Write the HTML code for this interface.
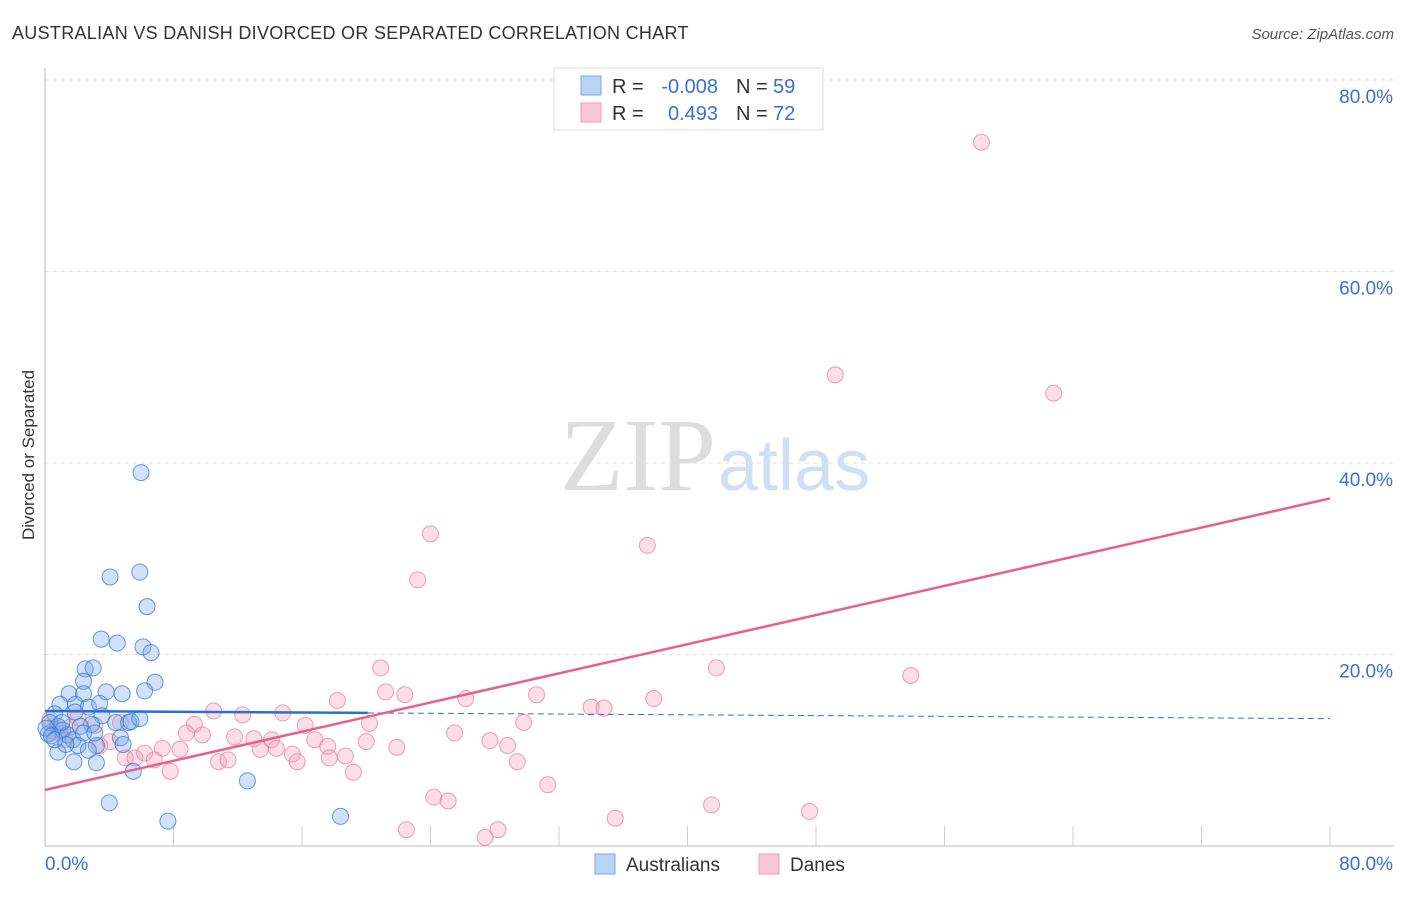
<!DOCTYPE html>
<html><head><meta charset="utf-8"><style>
body{margin:0;background:#fff;font-family:"Liberation Sans",sans-serif}
</style></head><body>
<svg id="c" width="1406" height="892" xmlns="http://www.w3.org/2000/svg">
<text x="12" y="39" font-size="18" fill="#333" letter-spacing="0.3">AUSTRALIAN VS DANISH DIVORCED OR SEPARATED CORRELATION CHART</text>
<text x="1394" y="39" font-size="15" fill="#555" font-style="italic" text-anchor="end">Source: ZipAtlas.com</text>
<text x="34" y="455" font-size="17" fill="#333" text-anchor="middle" transform="rotate(-90 34 455)">Divorced or Separated</text>
<text x="716" y="490" font-size="104" fill="#ddd" text-anchor="end" font-family="Liberation Serif">ZIP</text>
<text x="718" y="490" font-size="72" fill="#cfe0f5">atlas</text>
<g id="grid"></g><g id="pts"></g><g id="lines"></g>
<g>
<rect x="554" y="68" width="269" height="62" fill="#fff" stroke="#ddd"/>
<rect x="581" y="76" width="20" height="19" fill="#b8d3f5" stroke="#7aa8e6"/>
<rect x="581" y="103" width="20" height="19" fill="#f9c6d5" stroke="#ee9ab4"/>
<text x="612" y="93" font-size="20" fill="#333">R =</text>
<text x="718" y="93" font-size="20" fill="#3a6fd8" text-anchor="end">-0.008</text>
<text x="736" y="93" font-size="20" fill="#333">N =</text>
<text x="773" y="93" font-size="20" fill="#3a6fd8">59</text>
<text x="612" y="120" font-size="20" fill="#333">R =</text>
<text x="718" y="120" font-size="20" fill="#3a6fd8" text-anchor="end">0.493</text>
<text x="736" y="120" font-size="20" fill="#333">N =</text>
<text x="773" y="120" font-size="20" fill="#3a6fd8">72</text>
</g>
<g>
<rect x="595" y="854" width="20" height="20" fill="#b8d3f5" stroke="#7aa8e6"/>
<text x="626" y="871" font-size="19" fill="#333">Australians</text>
<rect x="759" y="854" width="20" height="20" fill="#f9c6d5" stroke="#ee9ab4"/>
<text x="790" y="871" font-size="19" fill="#333">Danes</text>
</g>
</svg>
<script>
const yTicks=[20,40,60,80];
const xTickLabels=["0.0%","80.0%"];
const blueX=[5.98,4.05,5.9,6.35,3.5,4.5,6.1,6.6,2.5,3.0,2.4,6.85,1.5,2.4,3.8,4.8,6.2,0.93,1.9,2.7,3.4,0.6,1.87,3.55,2.9,4.4,5.2,5.35,0.3,0.8,1.1,0.2,1.4,4.7,1.74,2.05,3.2,4.86,0.8,2.7,1.8,3.2,5.5,12.6,4.0,7.65,18.4,0.06,0.4,1.05,2.2,1.3,2.4,0.6,3.1,5.9];
const blueY=[39.0,28.1,28.6,25.0,21.6,21.2,20.8,20.2,18.5,18.6,17.2,17.1,15.9,15.9,16.1,15.9,16.2,14.8,14.8,14.5,14.9,13.8,14.0,13.6,12.7,12.9,12.9,13.0,12.9,12.5,12.1,11.7,11.6,11.3,11.1,10.5,10.5,10.6,9.8,10.0,8.8,8.7,7.8,6.8,4.5,2.6,3.1,12.3,11.5,12.9,12.5,10.6,11.8,11.1,11.8,13.3];
const pinkX=[58.3,49.2,62.8,24.0,37.5,23.2,41.8,53.9,20.9,21.2,22.4,18.2,26.2,30.6,34.0,34.8,37.9,10.5,12.3,14.8,9.3,16.2,20.2,29.8,8.8,9.8,11.8,13.0,14.1,16.8,17.6,20.0,21.9,25.5,27.7,28.8,7.3,8.4,13.4,14.4,15.4,17.7,18.7,29.4,5.0,5.6,6.2,6.8,10.8,11.4,15.7,7.8,19.2,31.3,24.2,25.1,41.5,47.6,35.5,22.5,28.2,27.4,4.05,3.1,2.05,0.93,0.3,4.7,3.4,1.56,1.25,0.5];
const pinkY=[73.5,49.2,47.3,32.6,31.4,27.8,18.6,17.8,18.6,16.1,15.8,15.2,15.4,15.8,14.5,14.4,15.4,14.1,13.7,13.9,12.7,12.6,12.8,12.9,11.8,11.6,11.4,11.2,11.1,11.1,10.4,10.9,10.3,11.8,11.0,10.5,10.2,10.1,10.1,10.2,9.6,9.2,9.4,8.8,9.2,9.2,9.7,9.0,8.8,9.0,8.8,7.8,7.7,6.4,5.1,4.7,4.3,3.6,2.9,1.7,1.7,0.9,10.9,12.6,13.4,12.1,13.2,12.9,10.5,12.4,11.1,12.0];
const blueTrend=[14.1,13.3];const blueSolidEnd=20.1;
const pinkTrend=[5.85,36.3];
const NS="http://www.w3.org/2000/svg";
const X=v=>45+v/80*1285, Y=v=>846-v/80*766;
function mk(t,a,p){const e=document.createElementNS(NS,t);for(const k in a)e.setAttribute(k,a[k]);p.appendChild(e);return e;}
const g=document.getElementById('grid');
yTicks.forEach(t=>{
 const l=mk('line',{x1:45,x2:1394,y1:Y(t),y2:Y(t),stroke:'#ddd','stroke-dasharray':'4,4'},g);
 
 
 const tx=mk('text',{x:1393,y:Y(t)+23,'font-size':19,fill:'#3a6fd8','text-anchor':'end'},g);tx.textContent=t.toFixed(1)+'%';
 
 
});
mk('line',{x1:45,x2:45,y1:68,y2:846,stroke:'#bbb'},g);
mk('line',{x1:45,x2:1394,y1:846,y2:846,stroke:'#bbb'},g);
for(let i=1;i<=10;i++){const x=X(i*8);mk('line',{x1:x,x2:x,y1:826,y2:846,stroke:'#ccc'},g);}
[[0,'start',45],[80,'end',1393]].forEach((d,i)=>{const t=mk('text',{x:d[2],y:870,'font-size':19,fill:'#3a6fd8','text-anchor':d[1]},g);t.textContent=xTickLabels[i];
 
 });
const p=document.getElementById('pts');
pinkX.forEach((x,i)=>{const c=mk('circle',{cx:X(x),cy:Y(pinkY[i]),r:8,fill:'rgba(244,160,185,0.35)',stroke:'rgba(232,120,155,0.7)','stroke-width':1},p);
 
 });
blueX.forEach((x,i)=>{const c=mk('circle',{cx:X(x),cy:Y(blueY[i]),r:8,fill:'rgba(120,170,235,0.35)',stroke:'rgba(50,120,215,0.75)','stroke-width':1},p);
 
 });
const L=document.getElementById('lines');
const by=x=>blueTrend[0]+(blueTrend[1]-blueTrend[0])*x/80;
let a=mk('line',{x1:X(0),y1:Y(by(0)),x2:X(blueSolidEnd),y2:Y(by(blueSolidEnd)),stroke:'#2a6fd6','stroke-width':2.5},L);


a=mk('line',{x1:X(blueSolidEnd),y1:Y(by(blueSolidEnd)),x2:X(80),y2:Y(by(80)),stroke:'#2a6fd6','stroke-width':1,'stroke-dasharray':'6,4'},L);


a=mk('line',{x1:X(0),y1:Y(pinkTrend[0]),x2:X(80),y2:Y(pinkTrend[1]),stroke:'#e8608a','stroke-width':2.5},L);


</script>
</body></html>
